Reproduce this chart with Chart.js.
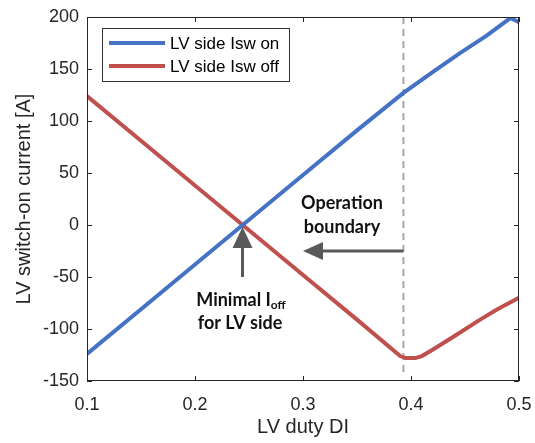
<!DOCTYPE html>
<html>
<head>
<meta charset="utf-8">
<script src="https://cdn.jsdelivr.net/npm/chart.js@4"></script>
<style>
  html, body { margin: 0; padding: 0; background: #fff; }
  #wrap { width: 535px; height: 443px; }
</style>
</head>
<body>
<div id="wrap"><canvas id="dutyChart"></canvas></div>
<script>
// data
const dutyOn = [0.1, 0.15, 0.2, 0.25, 0.3, 0.35, 0.393, 0.42, 0.445, 0.47, 0.492, 0.5];
const iswOn = [-124, -81, -38, 5, 48, 91, 127, 147, 165, 182, 199, 195];

const dutyOff = [0.1, 0.15, 0.2, 0.25, 0.3, 0.35, 0.39, 0.395, 0.404, 0.41, 0.42, 0.44, 0.464, 0.48, 0.5];
const iswOff = [124, 81, 38, -5, -48, -91, -126, -128, -128, -126, -120, -107, -91, -81, -70];

const xTicks = [0.1, 0.2, 0.3, 0.4, 0.5];
const yTicks = [-150, -100, -50, 0, 50, 100, 150, 200];

const boundaryDuty = 0.393;
const minPoint = { x: 0.244, y: 0 };

const blue = "#4472c4";
const red = "#c0504d";
const arrowGray = "#595959";
const axisFont = "'Liberation Sans', Arial, sans-serif";
const noteFont = "Lato, 'Open Sans', sans-serif";

function pts(xs, ys) {
  return xs.map((x, i) => ({ x: x, y: ys[i] }));
}

const data = {
  datasets: [
    {
      label: "LV side Isw on",
      data: pts(dutyOn, iswOn),
      borderColor: blue,
      backgroundColor: blue,
      borderWidth: 4,
      pointRadius: 0,
      tension: 0,
    },
    {
      label: "LV side Isw off",
      data: pts(dutyOff, iswOff),
      borderColor: red,
      backgroundColor: red,
      borderWidth: 4,
      pointRadius: 0,
      tension: 0,
    },
  ],
};

function arrow(ctx, x1, y1, x2, y2, headLen, headHalf) {
  const ang = Math.atan2(y2 - y1, x2 - x1);
  const bx = x2 - headLen * Math.cos(ang);
  const by = y2 - headLen * Math.sin(ang);
  ctx.beginPath();
  ctx.moveTo(x1, y1);
  ctx.lineTo(bx, by);
  ctx.stroke();
  ctx.beginPath();
  ctx.moveTo(x2, y2);
  ctx.lineTo(bx + headHalf * Math.sin(ang), by - headHalf * Math.cos(ang));
  ctx.lineTo(bx - headHalf * Math.sin(ang), by + headHalf * Math.cos(ang));
  ctx.closePath();
  ctx.fill();
}

const extras = {
  id: "extras",
  beforeDatasetsDraw(chart) {
    const { ctx, chartArea: a, scales: { x, y } } = chart;
    const bx = x.getPixelForValue(boundaryDuty);
    ctx.save();
    ctx.strokeStyle = "#a6a6a6";
    ctx.lineWidth = 2;
    ctx.setLineDash([7, 5]);
    ctx.beginPath();
    ctx.moveTo(bx, a.top);
    ctx.lineTo(bx, y.getPixelForValue(-145));
    ctx.stroke();
    ctx.restore();
  },
  afterDraw(chart) {
    const { ctx, chartArea: a, scales: { x, y } } = chart;
    ctx.save();

    // frame + inward ticks
    ctx.strokeStyle = "#262626";
    ctx.lineWidth = 1;
    ctx.strokeRect(a.left + 0.5, a.top + 0.5, a.right - a.left - 1, a.bottom - a.top - 1);
    ctx.beginPath();
    xTicks.forEach(t => {
      const px = Math.round(x.getPixelForValue(t)) + 0.5;
      ctx.moveTo(px, a.bottom); ctx.lineTo(px, a.bottom - 5);
      ctx.moveTo(px, a.top); ctx.lineTo(px, a.top + 5);
    });
    yTicks.forEach(t => {
      const py = Math.round(y.getPixelForValue(t)) + 0.5;
      ctx.moveTo(a.left, py); ctx.lineTo(a.left + 5, py);
      ctx.moveTo(a.right, py); ctx.lineTo(a.right - 5, py);
    });
    ctx.stroke();

    // legend box
    const lx = 102, ly = 28, lw = 187, lh = 53;
    ctx.fillStyle = "#fff";
    ctx.fillRect(lx, ly, lw, lh);
    ctx.strokeStyle = "#333";
    ctx.strokeRect(lx + 0.5, ly + 0.5, lw, lh);
    ctx.font = "17px " + axisFont;
    ctx.textBaseline = "middle";
    chart.data.datasets.forEach((ds, i) => {
      const yy = ly + 15 + i * 23;
      ctx.strokeStyle = ds.borderColor;
      ctx.lineWidth = 4;
      ctx.beginPath();
      ctx.moveTo(lx + 7, yy); ctx.lineTo(lx + 63, yy);
      ctx.stroke();
      ctx.fillStyle = "#000";
      ctx.fillText(ds.label, lx + 68, yy + 1);
    });

    // arrows
    ctx.fillStyle = arrowGray;
    ctx.strokeStyle = arrowGray;
    ctx.lineWidth = 3;
    const mx = x.getPixelForValue(minPoint.x);
    const my = y.getPixelForValue(minPoint.y);
    arrow(ctx, mx, y.getPixelForValue(-50), mx, my + 2, 21, 10);
    const by = y.getPixelForValue(-25);
    arrow(ctx, x.getPixelForValue(boundaryDuty), by, x.getPixelForValue(0.3), by, 20, 9);

    // annotation text
    ctx.fillStyle = "#111";
    ctx.textAlign = "center";
    ctx.textBaseline = "middle";
    ctx.font = "bold 18px " + noteFont;
    ctx.fillText("Operation", 342, 203);
    ctx.fillText("boundary", 342, 227);
    ctx.fillText("for LV side", 240, 323);
    const main = "Minimal I";
    ctx.textAlign = "left";
    const w1 = ctx.measureText(main).width;
    ctx.font = "bold 12px " + noteFont;
    const w2 = ctx.measureText("off").width;
    const sx = 241 - (w1 + w2) / 2;
    ctx.font = "bold 18px " + noteFont;
    ctx.fillText(main, sx, 300);
    ctx.font = "bold 12px " + noteFont;
    ctx.fillText("off", sx + w1, 305);

    ctx.restore();
  },
};

const config = {
  type: "line",
  data: data,
  options: {
    responsive: true,
    maintainAspectRatio: false,
    animation: false,
    layout: { padding: { top: 17, right: 16, left: 0, bottom: 0 } },
    plugins: { legend: { display: false }, tooltip: { enabled: false } },
    scales: {
      x: {
        type: "linear",
        min: 0.1,
        max: 0.5,
        afterFit: s => { s.height = 62; s.paddingLeft = 0; s.paddingRight = 0; },
        afterBuildTicks: s => { s.ticks = xTicks.map(v => ({ value: v })); },
        grid: { display: false, drawTicks: false },
        border: { display: false },
        ticks: {
          color: "#262626",
          padding: 13,
          font: { family: axisFont, size: 18 },
          callback: v => v.toFixed(1),
        },
        title: {
          display: true,
          text: "LV duty DI",
          color: "#262626",
          padding: { top: 7 },
          font: { family: axisFont, size: 20 },
        },
      },
      y: {
        min: -150,
        max: 200,
        afterFit: s => { s.width = 87; s.paddingTop = 0; s.paddingBottom = 0; },
        afterBuildTicks: s => { s.ticks = yTicks.map(v => ({ value: v })); },
        grid: { display: false, drawTicks: false },
        border: { display: false },
        ticks: {
          color: "#262626",
          padding: 8,
          font: { family: axisFont, size: 18 },
        },
        title: {
          display: true,
          text: "LV switch-on current [A]",
          color: "#262626",
          padding: { top: 12, bottom: 0 },
          font: { family: axisFont, size: 20 },
        },
      },
    },
  },
  plugins: [extras],
};

const ctx = document.getElementById("dutyChart").getContext("2d");
const dutyChart = new Chart(ctx, config);
</script>
</body>
</html>
